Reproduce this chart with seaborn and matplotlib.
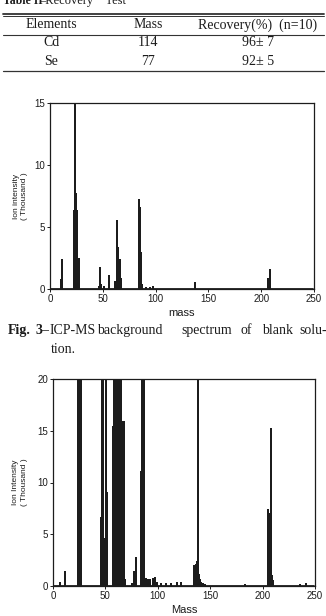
import matplotlib
matplotlib.use("Agg")
import matplotlib.pyplot as plt
from matplotlib.lines import Line2D
import seaborn as sns
import pandas as pd

# Table II - Recovery Test
table_header = ["Elements", "Mass", "Recovery(%)  (n=10)"]
elements = ["Cd", "Se"]
masses = ["114", "77"]
recovery = ["96± 7", "92± 5"]

# Fig. 3 - blank solution spectrum (intensity in thousand counts)
blank_mass = [10, 11, 23, 24, 25, 26, 27, 46, 47, 48, 51, 56, 62, 63, 64, 65,
              66, 67, 84, 85, 86, 87, 91, 95, 98, 137, 206, 207, 208]
blank_int = [0.7, 2.35, 6.3, 16.0, 7.7, 6.3, 2.4, 0.2, 1.7, 0.3, 0.2, 1.05, 0.6, 5.5, 3.3, 2.1,
             2.3, 0.8, 7.2, 6.5, 2.9, 0.3, 0.1, 0.1, 0.15, 0.5, 0.8, 0.75, 1.55]

# Fig. 4 - sample spectrum (values above 20 are off scale)
sample_mass = [7, 11, 24, 25, 26, 27, 46, 47, 48, 49, 51, 52, 57, 58, 59, 60, 61, 62, 63, 64,
               65, 67, 68, 69, 75, 77, 79, 84, 85, 86, 87, 89, 91, 93, 95, 97, 99, 103, 108,
               113, 118, 122, 135, 136, 137, 138, 139, 140, 141, 143, 145, 183, 205, 206, 207,
               208, 209, 210, 236, 241]
sample_int = [0.26, 1.4, 22, 22, 9.6, 22, 6.6, 22, 22, 4.5, 22, 9.0, 15.4, 22, 22, 22, 7.8, 22, 22, 22,
              22, 15.8, 15.8, 0.6, 0.2, 1.4, 2.7, 11.0, 22, 22, 22, 0.7, 0.6, 0.6, 0.7, 0.8, 0.3, 0.15, 0.2,
              0.2, 0.25, 0.3, 1.9, 2.0, 2.3, 22, 1.1, 0.6, 0.3, 0.2, 0.1, 0.05, 7.3, 6.2, 7.0,
              15.2, 1.0, 0.5, 0.1, 0.2]

ink = "#1c1c1c"
sns.set_theme(style="white")
plt.rcParams["font.family"] = ["Liberation Sans", "DejaVu Sans"]


def stick_frame(mass, inten):
    # each peak becomes a vertical stick going up from and back to the baseline
    xs, ys = [0.5], [0.0]
    for m, h in zip(mass, inten):
        xs += [m, m, m]
        ys += [0.0, h, 0.0]
    xs.append(249.5)
    ys.append(0.0)
    return pd.DataFrame({"mass": xs, "intensity": ys})


def spectrum(ax, mass, inten, ymax, yticks, xlabel, ylabel, ylab_x, lsp):
    df = stick_frame(mass, inten)
    sns.lineplot(data=df, x="mass", y="intensity", sort=False, estimator=None,
                 color=ink, lw=1.3, ax=ax)
    ax.set_xlim(0, 250)
    ax.set_ylim(0, ymax)
    ax.set_xticks([0, 50, 100, 150, 200, 250])
    ax.set_yticks(yticks)
    ax.tick_params(direction="out", length=2.5, width=0.7, labelsize=7,
                   colors=ink, pad=1.0, bottom=True, left=True)
    for s in ax.spines.values():
        s.set_color(ink)
        s.set_linewidth(0.9)
    ax.set_xlabel(xlabel, fontsize=8, color=ink, labelpad=3)
    ax.set_ylabel(ylabel, fontsize=6, color=ink, linespacing=lsp)
    ax.yaxis.set_label_coords(ylab_x, 0.5)


fig = plt.figure(figsize=(3.26, 6.16), dpi=100)
W, H = 326.0, 616.0


def fx(px):
    return px / W


def fy(py):
    return 1 - py / H


# ---- table ----
serif = ["Liberation Serif", "DejaVu Serif"]
fs_tab = 10
fig.text(fx(3), fy(4), "Table II", fontsize=8.5, fontweight="bold", family=serif,
         color=ink, va="baseline")
fig.text(fx(39), fy(4), "–Recovery    Test", fontsize=9, family=serif, color=ink,
         va="baseline")
for y, lw in [(14.0, 1.3), (16.4, 0.7), (34.5, 0.8), (71.0, 0.9)]:
    fig.add_artist(Line2D([fx(3), fx(324)], [fy(y), fy(y)], color="#333333", lw=lw))
col_x = [51, 148, 258]
for cx, txt in zip(col_x, table_header):
    fig.text(fx(cx), fy(25), txt, fontsize=fs_tab, family=serif, color=ink,
             ha="center", va="center")
for i in range(len(elements)):
    yy = 43 + 18.5 * i
    fig.text(fx(col_x[0]), fy(yy), elements[i], fontsize=fs_tab, family=serif, color=ink,
             ha="center", va="center")
    fig.text(fx(col_x[1]), fy(yy), masses[i], fontsize=fs_tab, family=serif, color=ink,
             ha="center", va="center")
    fig.text(fx(col_x[2]), fy(yy), recovery[i], fontsize=fs_tab, family=serif, color=ink,
             ha="center", va="center")

# ---- Fig. 3 ----
ax1 = fig.add_axes([fx(50), fy(289), fx(264), 186 / H])
spectrum(ax1, blank_mass, blank_int, 15, [0, 5, 10, 15], "mass",
         "Ion intensity\n( Thousand )", -0.083, 1.3)

fs_cap = 10
words = [(8, "Fig.", "bold"), (35, "3", "bold"), (41.5, "–", "normal"), (50, "ICP-MS", "normal"),
         (97, "background", "normal"), (181, "spectrum", "normal"), (241, "of", "normal"),
         (262, "blank", "normal"), (299, "solu-", "normal")]
for x, w, wt in words:
    fig.text(fx(x), fy(334), w, fontsize=fs_cap, family=serif, fontweight=wt, color=ink,
             va="baseline")
fig.text(fx(51), fy(353), "tion.", fontsize=fs_cap, family=serif, color=ink, va="baseline")

# ---- Fig. 4 ----
ax2 = fig.add_axes([fx(53), fy(586), fx(262), 207 / H])
spectrum(ax2, sample_mass, sample_int, 20, [0, 5, 10, 15, 20], "Mass",
         "Ion Intensity\n( Thousand )", -0.095, 1.5)

fig.savefig("out.png", dpi=100, facecolor="white")
